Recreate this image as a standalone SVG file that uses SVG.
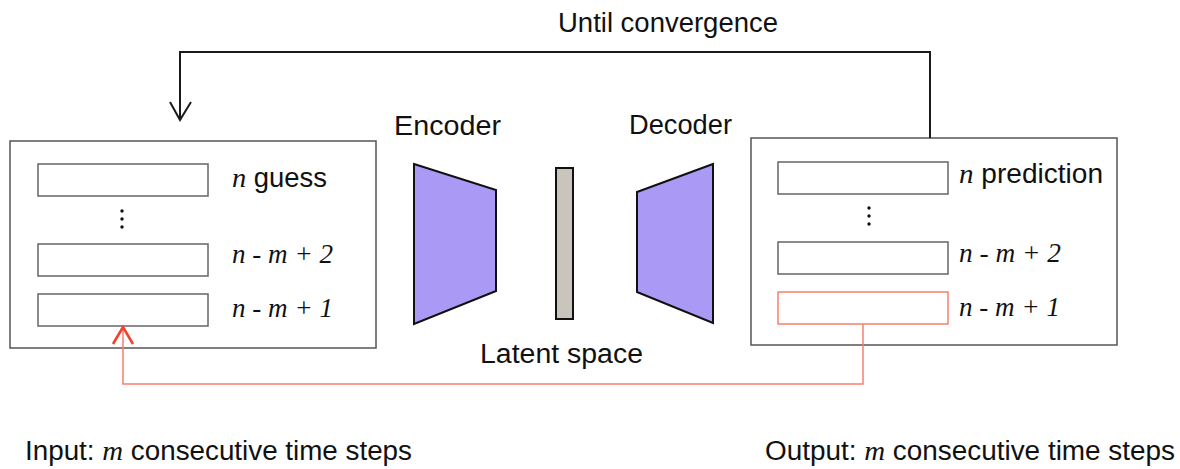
<svg xmlns="http://www.w3.org/2000/svg" width="1180" height="469" viewBox="0 0 1180 469">
<style>
.sans{font-family:"Liberation Sans",Arial,sans-serif;font-size:27px;fill:#111}
.it{font-family:"Liberation Serif","Times New Roman",serif;font-style:italic;font-size:28px;fill:#111}
.outer{fill:#fff;stroke:#555;stroke-width:1.5}
.slot{fill:#fff;stroke:#666;stroke-width:1.5}
.slotred{fill:#fff;stroke:#f6806f;stroke-width:1.5}
.net{fill:#aa9af6;stroke:#111;stroke-width:2}
.latent{fill:#c9c5bd;stroke:#111;stroke-width:2}
.dot{fill:#111}
</style>
<g id="input-box">
<rect class="outer" x="10" y="141" width="366" height="207"/>
<rect class="slot" x="38" y="164" width="170" height="32"/>
<rect class="slot" x="38" y="244" width="170" height="32"/>
<rect class="slot" x="38" y="294" width="170" height="32"/>
<circle class="dot" cx="122" cy="211" r="1.7"/>
<circle class="dot" cx="122" cy="219" r="1.7"/>
<circle class="dot" cx="122" cy="227" r="1.7"/>
<text class="sans" x="232" y="187" textLength="95" lengthAdjust="spacingAndGlyphs"><tspan class="it">n</tspan> guess</text>
<text class="it" x="232" y="263" textLength="101" lengthAdjust="spacingAndGlyphs">n - m + 2</text>
<text class="it" x="232" y="317" textLength="101" lengthAdjust="spacingAndGlyphs">n - m + 1</text>
</g>
<g id="encoder">
<polygon class="net" points="414,164 496,190 496,291 414,324"/>
<text class="sans" x="394" y="135" textLength="107" lengthAdjust="spacingAndGlyphs">Encoder</text>
</g>
<g id="latent">
<rect class="latent" x="556" y="168" width="17" height="151"/>
<text class="sans" x="480" y="363" textLength="163" lengthAdjust="spacingAndGlyphs">Latent space</text>
</g>
<g id="decoder">
<polygon class="net" points="637,192 713,164 713,323 637,292"/>
<text class="sans" x="629" y="134" textLength="103" lengthAdjust="spacingAndGlyphs">Decoder</text>
</g>
<g id="output-box">
<rect class="outer" x="751" y="138" width="366" height="207"/>
<rect class="slot" x="778" y="162" width="170" height="32"/>
<rect class="slot" x="778" y="242" width="170" height="32"/>
<rect class="slotred" x="778" y="292" width="170" height="32"/>
<circle class="dot" cx="869" cy="208" r="1.7"/>
<circle class="dot" cx="869" cy="216" r="1.7"/>
<circle class="dot" cx="869" cy="224" r="1.7"/>
<text class="sans" x="959" y="183" textLength="144" lengthAdjust="spacingAndGlyphs"><tspan class="it">n</tspan> prediction</text>
<text class="it" x="959" y="262" textLength="102" lengthAdjust="spacingAndGlyphs">n - m + 2</text>
<text class="it" x="959" y="316" textLength="101" lengthAdjust="spacingAndGlyphs">n - m + 1</text>
</g>
<g id="connectors" fill="none">
<polyline points="930,138 930,52 180,52 180,119" stroke="#1a1a1a" stroke-width="2"/>
<polyline points="170,102 180,120 191,102" stroke="#1a1a1a" stroke-width="2"/>
<polyline points="863,324 863,384 123,384 123,327" stroke="#f6806f" stroke-width="1.5"/>
<polyline points="113,344 123,327 133,344" stroke="#f2422f" stroke-width="2.6"/>
</g>
<g id="labels">
<text class="sans" x="558" y="32" textLength="220" lengthAdjust="spacingAndGlyphs">Until convergence</text>
<text class="sans" x="25" y="460" textLength="387" lengthAdjust="spacingAndGlyphs">Input: <tspan class="it">m</tspan> consecutive time steps</text>
<text class="sans" x="765" y="460" textLength="410" lengthAdjust="spacingAndGlyphs">Output: <tspan class="it">m</tspan> consecutive time steps</text>
</g>
</svg>
